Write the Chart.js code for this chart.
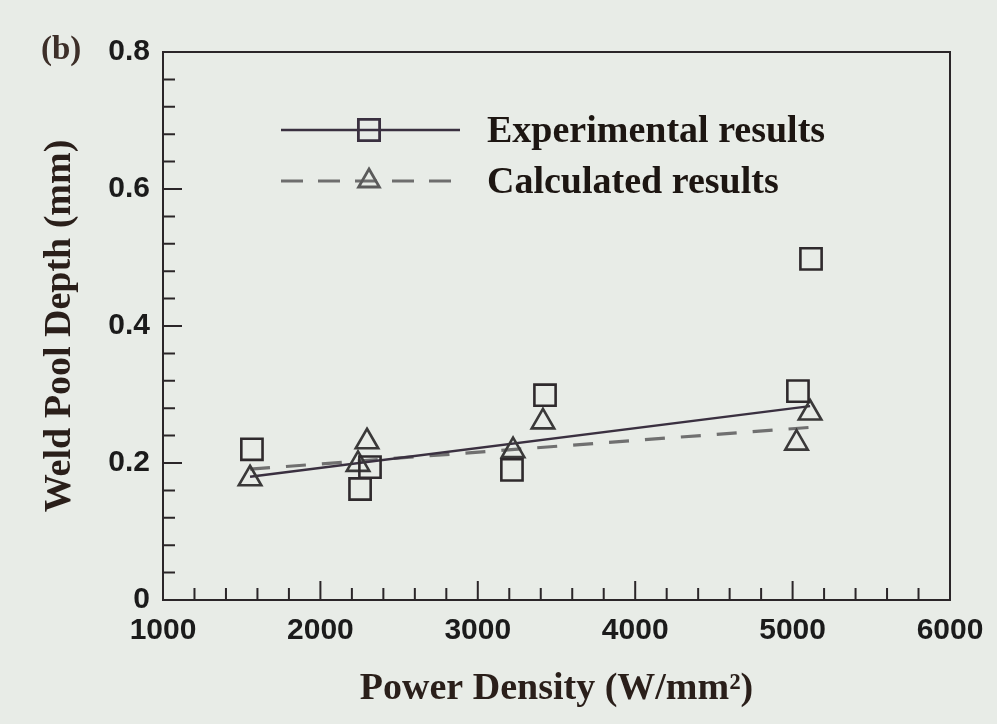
<!DOCTYPE html>
<html>
<head>
<meta charset="utf-8">
<script src="https://cdn.jsdelivr.net/npm/chart.js@4.4.1/dist/chart.umd.min.js"></script>
<style>
  html, body { margin: 0; padding: 0; background: #e8ece7; }
  #wrap { width: 997px; height: 724px; }
</style>
</head>
<body>
<div id="wrap"><canvas id="depthChart" width="997" height="724"></canvas></div>
<script>
// power density (W/mm2) vs weld pool depth (mm)
const expX = [1565, 2252, 2315, 3217, 3427, 5034, 5117];
const expY = [0.220, 0.162, 0.194, 0.190, 0.299, 0.305, 0.498];
const calcX = [1553, 2239, 2296, 3224, 3414, 5025, 5111];
const calcY = [0.177, 0.198, 0.231, 0.218, 0.260, 0.229, 0.273];

// fitted lines, end points
const expFitX = [1553, 5111];
const expFitY = [0.180, 0.283];
const calcFitX = [1553, 5111];
const calcFitY = [0.191, 0.252];

const seriesNames = ['Experimental results', 'Calculated results'];
const xTitle = 'Power Density (W/mm\u00B2)';
const yTitle = 'Weld Pool Depth (mm)';
const panelLabel = '(b)';

const BG = '#e8ece7';
const AXIS = '#2b2629';
const SERIF = "'Liberation Serif', 'Times New Roman', serif";
const SANS = "'Liberation Sans', Arial, sans-serif";

const toPts = (xs, ys) => xs.map((x, i) => ({ x: x, y: ys[i] }));

const framePlugin = {
    id: 'frame',
    beforeDraw(chart) {
        const ctx = chart.ctx;
        ctx.save();
        ctx.fillStyle = BG;
        ctx.fillRect(0, 0, chart.width, chart.height);
        ctx.restore();
    },
    afterDraw(chart) {
        const ctx = chart.ctx;
        const a = chart.chartArea;
        const xs = chart.scales.x;
        const ys = chart.scales.y;
        ctx.save();
        ctx.strokeStyle = AXIS;
        ctx.lineWidth = 2;
        ctx.strokeRect(a.left, a.top, a.right - a.left, a.bottom - a.top);

        // inward tick marks on bottom and left axes
        ctx.beginPath();
        xs.ticks.forEach(t => {
            const px = xs.getPixelForValue(t.value);
            if (px <= a.left + 1 || px >= a.right - 1) return;
            const len = Math.round(t.value) % 1000 === 0 ? 19 : 12;
            ctx.moveTo(px, a.bottom);
            ctx.lineTo(px, a.bottom - len);
        });
        ys.ticks.forEach(t => {
            const py = ys.getPixelForValue(t.value);
            if (py >= a.bottom - 1 || py <= a.top + 1) return;
            const len = Math.round(t.value * 100) % 20 === 0 ? 19 : 12;
            ctx.moveTo(a.left, py);
            ctx.lineTo(a.left + len, py);
        });
        ctx.stroke();

        // legend inside the plot
        const rows = [
            { y: 130, color: '#3a3040', dash: [], style: 'rect', r: 15, ptColor: '#3a3040', width: 2.4 },
            { y: 181, color: '#6e6e6e', dash: [22, 15], style: 'triangle', r: 12, ptColor: '#5a5a5a', width: 3 }
        ];
        rows.forEach((row, i) => {
            ctx.save();
            ctx.strokeStyle = row.color;
            ctx.lineWidth = row.width;
            ctx.setLineDash(row.dash);
            ctx.beginPath();
            ctx.moveTo(281, row.y);
            ctx.lineTo(460, row.y);
            ctx.stroke();
            ctx.setLineDash([]);
            ctx.strokeStyle = row.ptColor;
            ctx.fillStyle = 'rgba(0,0,0,0)';
            ctx.lineWidth = 2.8;
            Chart.helpers.drawPoint(ctx, { pointStyle: row.style, radius: row.r, rotation: 0, borderWidth: 2.8 }, 369, row.y);
            ctx.restore();
            ctx.fillStyle = '#1d1612';
            ctx.font = 'bold 38px ' + SERIF;
            ctx.textBaseline = 'middle';
            ctx.textAlign = 'left';
            ctx.fillText(seriesNames[i], 487, row.y + 2);
        });

        ctx.fillStyle = '#3d2f29';
        ctx.font = 'bold 33px ' + SERIF;
        ctx.textBaseline = 'middle';
        ctx.textAlign = 'left';
        ctx.fillText(panelLabel, 41, 50);
        ctx.restore();
    }
};

new Chart(document.getElementById('depthChart'), {
    type: 'scatter',
    data: {
        datasets: [
            {
                label: seriesNames[0],
                data: toPts(expX, expY),
                pointStyle: 'rect',
                pointRadius: 15,
                borderColor: '#2f2a2d',
                borderWidth: 2.6,
                backgroundColor: 'rgba(0,0,0,0)',
                showLine: false
            },
            {
                label: seriesNames[1],
                data: toPts(calcX, calcY),
                pointStyle: 'triangle',
                pointRadius: 13,
                borderColor: '#3a3939',
                borderWidth: 2.6,
                backgroundColor: 'rgba(0,0,0,0)',
                showLine: false
            },
            {
                type: 'line',
                data: toPts(expFitX, expFitY),
                borderColor: '#3a3040',
                borderWidth: 2.4,
                pointRadius: 0,
                fill: false
            },
            {
                type: 'line',
                data: toPts(calcFitX, calcFitY),
                borderColor: '#707070',
                borderWidth: 3.2,
                borderDash: [20, 16],
                pointRadius: 0,
                fill: false
            }
        ]
    },
    options: {
        responsive: false,
        animation: false,
        layout: { padding: { top: 52, right: 47, bottom: 0, left: 0 } },
        scales: {
            x: {
                type: 'linear',
                min: 1000,
                max: 6000,
                grid: { display: false, drawTicks: false },
                border: { display: false },
                ticks: {
                    stepSize: 200,
                    autoSkip: false,
                    maxRotation: 0,
                    minRotation: 0,
                    padding: 13,
                    color: '#1b1b1b',
                    font: { family: SANS, size: 30, weight: 'bold' },
                    callback: v => (Math.round(v) % 1000 === 0 ? String(Math.round(v)) : '')
                },
                title: {
                    display: true,
                    text: xTitle,
                    color: '#2a1f1a',
                    font: { family: SERIF, size: 38, weight: 'bold' },
                    padding: { top: 0, bottom: 12 }
                },
                afterFit: s => { s.height = 124; }
            },
            y: {
                min: 0,
                max: 0.8,
                grid: { display: false, drawTicks: false },
                border: { display: false },
                ticks: {
                    stepSize: 0.04,
                    autoSkip: false,
                    padding: 13,
                    color: '#1b1b1b',
                    font: { family: SANS, size: 30, weight: 'bold' },
                    callback: v => {
                        const r = Math.round(v * 100);
                        if (r % 20 !== 0) return '';
                        return r === 0 ? '0' : (r / 100).toFixed(1);
                    }
                },
                title: {
                    display: true,
                    text: yTitle,
                    color: '#2a1f1a',
                    font: { family: SERIF, size: 38, weight: 'bold' },
                    padding: { top: 37, bottom: 0 }
                },
                afterFit: s => { s.width = 163; }
            }
        },
        plugins: {
            legend: { display: false },
            tooltip: { enabled: false }
        }
    },
    plugins: [framePlugin]
});
</script>
</body>
</html>
